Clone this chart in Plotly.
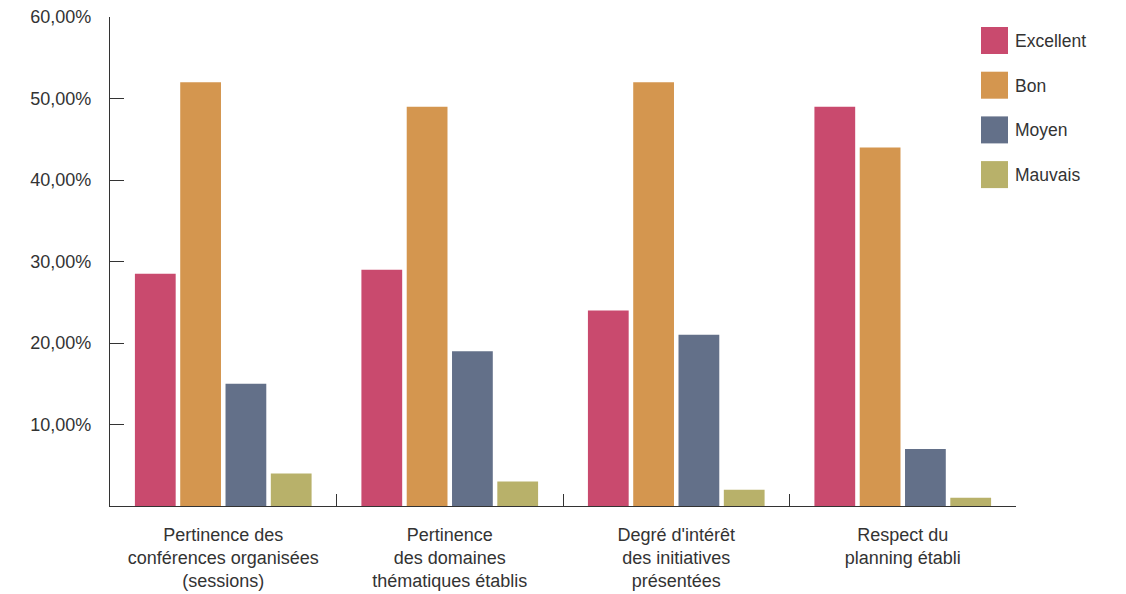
import plotly.graph_objects as go

categories = [
    "Pertinence des<br>conférences organisées<br>(sessions)",
    "Pertinence<br>des domaines<br>thématiques établis",
    "Degré d'intérêt<br>des initiatives<br>présentées",
    "Respect du<br>planning établi",
]
series_names = ["Excellent", "Bon", "Moyen", "Mauvais"]
excellent = [28.5, 29, 24, 49]
bon = [52, 49, 52, 44]
moyen = [15, 19, 21, 7]
mauvais = [4, 3, 2, 1]
y_ticks = [10, 20, 30, 40, 50, 60]
y_tick_text = ["10,00%", "20,00%", "30,00%", "40,00%", "50,00%", "60,00%"]

colors = ["#C94A6E", "#D4964F", "#637089", "#B8B16A"]
series_values = [excellent, bon, moyen, mauvais]

W, H = 1126, 594
L, R, T, B = 110, 110, 17, 88
FONT = "Liberation Sans, Arial, sans-serif"
TXT = "#333333"

fig = go.Figure()
for name, vals, col in zip(series_names, series_values, colors):
    fig.add_trace(go.Bar(x=categories, y=vals, name=name, marker=dict(color=col, line=dict(width=0)),
                         showlegend=False))

# hand-built legend with large square swatches (pixel layout -> paper coords)
pw, ph = W - L - R, H - T - B
def px(x):
    return (x - L) / pw
def py(y):
    return (H - B - y) / ph

shapes = []
annotations = []
for i, (name, col) in enumerate(zip(series_names, colors)):
    top = 27 + i * 44.7
    shapes.append(dict(type="rect", xref="paper", yref="paper",
                       x0=px(981), x1=px(1008), y0=py(top + 27), y1=py(top),
                       fillcolor=col, line=dict(width=0)))
    annotations.append(dict(xref="paper", yref="paper", x=px(1013), y=py(top + 14),
                            text=name, showarrow=False, xanchor="left", yanchor="middle",
                            font=dict(size=17.5, color=TXT, family=FONT)))

fig.update_layout(
    width=W, height=H,
    margin=dict(l=L, r=R, t=T, b=B, autoexpand=False),
    paper_bgcolor="white", plot_bgcolor="white",
    barmode="group", bargap=0.2, bargroupgap=0.1,
    font=dict(family=FONT, size=17.5, color=TXT),
    shapes=shapes, annotations=annotations,
    showlegend=False,
)
fig.update_xaxes(
    showline=True, linecolor="#333333", linewidth=1,
    ticks="inside", tickson="boundaries", ticklen=12, tickcolor="#333333",
    showgrid=False, zeroline=False, ticklabelstandoff=12, automargin=False,
    tickfont=dict(size=18, color=TXT), tickangle=0,
)
fig.update_yaxes(
    range=[0, 60], showline=True, linecolor="#333333", linewidth=1,
    tickvals=y_ticks, ticktext=y_tick_text,
    ticks="inside", ticklen=14, tickcolor="#333333",
    showgrid=False, zeroline=False, ticklabelstandoff=14, automargin=False,
    tickfont=dict(size=18, color=TXT),
)

fig.write_html("out.html")
